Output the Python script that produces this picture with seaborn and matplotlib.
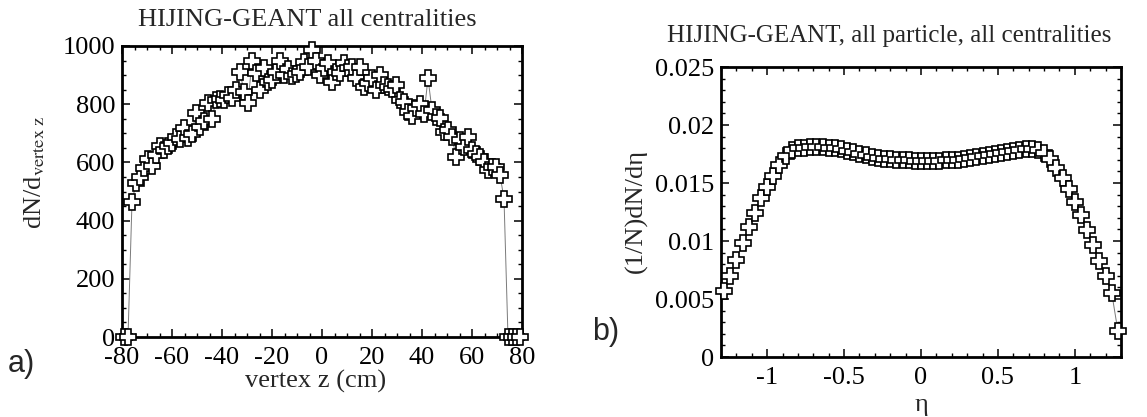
"""
Vertex z and pseudorapidity distributions, HIJING-GEANT.
"""

import numpy as np
import matplotlib
matplotlib.use("Agg")
import matplotlib.pyplot as plt
import seaborn as sns
from matplotlib.ticker import MultipleLocator, FuncFormatter

# panel a: vertex z distribution, 1.6 cm bins from -80 to 80
vz_first_center = -79.2
vz_bin_width = 1.6
vz_counts = [
    0, 0,
    465, 528, 551, 580, 611, 588, 625, 656, 643, 656, 668, 688, 679, 717,
    683, 698, 771, 721, 742, 805, 749, 814, 817, 814, 832, 820, 849,
    910, 843, 804, 950, 906, 849, 923, 877, 883, 912, 950, 900, 920, 897,
    905, 912, 946, 927, 986, 950, 900, 925, 940,
    877, 912, 906, 940, 923, 929, 889, 929, 860, 872, 889, 849, 900, 866,
    860, 851, 866, 814, 809, 774, 759, 786, 800, 765, 889, 780, 755, 752,
    705, 711, 688, 620, 677, 654, 688, 643, 629, 620, 602, 574, 585, 583,
    557, 475,
    0, 0, 0, 0,
]
vz_centers = vz_first_center + vz_bin_width * np.arange(len(vz_counts))

# panel b: normalised dN/deta, 0.04 bins from -1.3 to 1.3
eta_centers = np.round(np.arange(-1.28, 1.2801, 0.04), 2)
dndeta = [
    0.00567, 0.00694, 0.00837, 0.00980, 0.01123, 0.01238, 0.01370, 0.01467,
    0.01562, 0.01656, 0.01734, 0.01782, 0.01800, 0.01805, 0.01808, 0.01810,
    0.01808, 0.01805, 0.01800, 0.01790, 0.01780, 0.01765, 0.01752, 0.01740,
    0.01728, 0.01718, 0.01710, 0.01705, 0.01700, 0.01698, 0.01695, 0.01693,
    0.01692,
    0.01690, 0.01690, 0.01692, 0.01695, 0.01698, 0.01700, 0.01705, 0.01712,
    0.01720, 0.01730, 0.01740, 0.01750, 0.01760, 0.01770, 0.01778, 0.01785,
    0.01790, 0.01790, 0.01782, 0.01762, 0.01705, 0.01628, 0.01542, 0.01447,
    0.01332, 0.01226, 0.01095, 0.00966, 0.00831, 0.00694, 0.00550, 0.00223,
]

W, H = 1147, 417

sns.set_style("ticks")
plt.rcParams["font.family"] = ["Liberation Serif", "DejaVu Serif"]
plt.rcParams["mathtext.fontset"] = "stix"
plt.rcParams["axes.unicode_minus"] = False

FS = 19


def fx(px):
    return px / W


def fy(py):
    return 1 - py / H


def style_axes(ax):
    for s in ax.spines.values():
        s.set_linewidth(2.0)
        s.set_color("black")
    ax.tick_params(which="both", direction="in", top=True, right=True,
                   colors="black", labelsize=FS)
    ax.tick_params(which="major", length=5.5, width=1.1, pad=5)
    ax.tick_params(axis="x", which="major", pad=7)
    ax.tick_params(which="minor", length=3, width=1.0)
    ax.grid(False)


def draw_series(ax, x, y):
    sns.lineplot(x=x, y=y, ax=ax, color="#7a7a7a", linewidth=0.7,
                 marker="P", markersize=11, markerfacecolor="white",
                 markeredgecolor="black", markeredgewidth=1.2,
                 clip_on=False, zorder=5)


fig = plt.figure(figsize=(W / 100, H / 100), dpi=100)

ax_a = fig.add_axes([fx(122), fy(337), fx(400), 291 / H])
ax_b = fig.add_axes([fx(721), fy(357), fx(400), 290 / H])

# panel a
draw_series(ax_a, vz_centers, vz_counts)
ax_a.set_xlim(-80, 80)
ax_a.set_ylim(0, 1000)
ax_a.xaxis.set_major_locator(MultipleLocator(20))
ax_a.xaxis.set_minor_locator(MultipleLocator(5))
ax_a.yaxis.set_major_locator(MultipleLocator(200))
ax_a.yaxis.set_minor_locator(MultipleLocator(50))
style_axes(ax_a)
ax_a.set_xlabel("")
ax_a.set_ylabel("")

# panel b
draw_series(ax_b, eta_centers, dndeta)
ax_b.set_xlim(-1.3, 1.3)
ax_b.set_ylim(0, 0.025)
ax_b.xaxis.set_major_locator(MultipleLocator(0.5))
ax_b.xaxis.set_minor_locator(MultipleLocator(0.1))
ax_b.yaxis.set_major_locator(MultipleLocator(0.005))
ax_b.yaxis.set_minor_locator(MultipleLocator(0.001))
fmt = FuncFormatter(lambda v, pos: f"{v:g}" if abs(v) > 1e-12 else "0")
ax_b.xaxis.set_major_formatter(fmt)
ax_b.yaxis.set_major_formatter(fmt)
style_axes(ax_b)
ax_b.set_xlabel("")
ax_b.set_ylabel("")

# titles, labels
fig.text(fx(307), fy(26), "HIJING-GEANT all centralities", ha="center",
         va="baseline", fontsize=FS)
fig.text(fx(889), fy(42), "HIJING-GEANT, all particle, all centralities",
         ha="center", va="baseline", fontsize=FS - 1)
fig.text(fx(316), fy(381), "vertex z (cm)", ha="center", va="center",
         fontsize=FS)
fig.text(fx(35), fy(172), r"dN/d$_{\rm vertex\ z}$", ha="center",
         va="center", rotation=90, fontsize=FS)
fig.text(fx(636), fy(211), "(1/N)dN/dη", ha="center", va="center",
         rotation=90, fontsize=FS)
fig.text(fx(921), fy(405), "η", ha="center", va="center", fontsize=FS)
fig.text(fx(8), fy(372), "a)", ha="left", va="baseline", fontsize=22,
         family="Liberation Sans")
fig.text(fx(592), fy(340), "b)", ha="left", va="baseline", fontsize=22,
         family="Liberation Sans")

fig.savefig("out.png", dpi=100, facecolor="white")
